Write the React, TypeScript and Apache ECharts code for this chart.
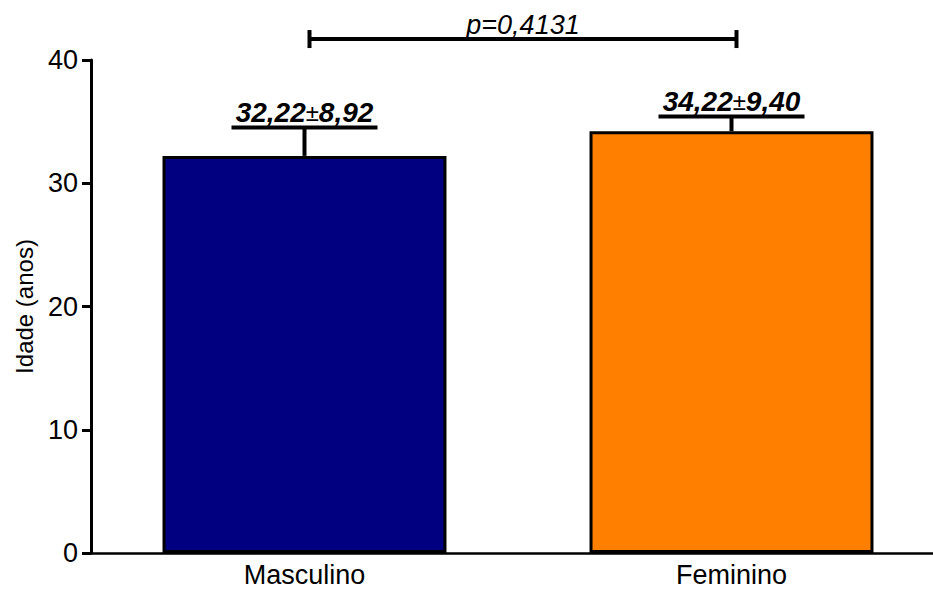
import React, { useEffect, useRef } from "react";
import * as echarts from "echarts";

const categories = ["Masculino", "Feminino"];
const means = [32.22, 34.22];
const sds = [8.92, 9.4];
const errUp = [2.3, 1.2];
const meanLabels = ["32,22", "34,22"];
const sdLabels = ["8,92", "9,40"];
const barColors = ["#000080", "#FF8000"];
const pText = "p=0,4131";
const pLevel = 41.7;
const yTicks = [0, 10, 20, 30, 40];

export default function App() {
  const ref = useRef<HTMLDivElement>(null);
  useEffect(() => {
    document.body.style.margin = "0";
    const chart = echarts.init(ref.current!, null, { renderer: "svg" });
    const font = "Arial, 'Liberation Sans', sans-serif";
    chart.setOption({
      animation: false,
      grid: { left: 91, width: 854, top: 60, height: 493, containLabel: false },
      xAxis: {
        type: "category",
        data: categories,
        axisLine: { lineStyle: { color: "#000", width: 2.5 } },
        axisTick: { alignWithLabel: true, length: 8, lineStyle: { color: "#000", width: 3 } },
        axisLabel: { color: "#000", fontSize: 27, fontFamily: font, margin: 8 },
      },
      yAxis: {
        type: "value",
        min: yTicks[0],
        max: yTicks[yTicks.length - 1],
        interval: 10,
        name: "Idade (anos)",
        nameLocation: "middle",
        nameRotate: 90,
        nameGap: 55,
        nameTextStyle: { color: "#000", fontSize: 24, fontFamily: font },
        splitLine: { show: false },
        axisLine: { show: true, lineStyle: { color: "#000", width: 3 } },
        axisTick: { show: true, length: 9, lineStyle: { color: "#000", width: 3 } },
        axisLabel: { color: "#000", fontSize: 27, fontFamily: font, margin: 13 },
      },
      series: [
        {
          type: "bar",
          barWidth: "66.5%",
          data: means.map((v, i) => ({
            value: v,
            itemStyle: { color: barColors[i], borderColor: "#000", borderWidth: 3 },
          })),
        },
        {
          type: "custom",
          clip: false,
          z: 5,
          data: means.map((m, i) => [i, m, errUp[i]]),
          renderItem: (params: any, api: any) => {
            const i = api.value(0);
            const m = api.value(1);
            const e = api.value(2);
            const base = api.coord([i, m]);
            const top = api.coord([i, m + e]);
            const capW = 146;
            return {
              type: "group",
              children: [
                {
                  type: "line",
                  shape: { x1: base[0], y1: base[1], x2: top[0], y2: top[1] },
                  style: { stroke: "#000", lineWidth: 4 },
                },
                {
                  type: "line",
                  shape: { x1: top[0] - capW / 2, y1: top[1], x2: top[0] + capW / 2, y2: top[1] },
                  style: { stroke: "#000", lineWidth: 4 },
                },
                {
                  type: "text",
                  x: top[0],
                  y: top[1] - 1,
                  style: {
                    text: `{a|${meanLabels[params.dataIndex]}}{b|±}{a|${sdLabels[params.dataIndex]}}`,
                    align: "center",
                    verticalAlign: "bottom",
                    rich: {
                      a: { fontSize: 28, fontWeight: "bold", fontStyle: "italic", fontFamily: font, fill: "#000" },
                      b: { fontSize: 24, fontFamily: font, fill: "#000" },
                    },
                  },
                },
              ],
            };
          },
        },
        {
          type: "custom",
          clip: false,
          z: 5,
          data: [[0, 1, pLevel]],
          renderItem: (params: any, api: any) => {
            const a = api.coord([api.value(0), api.value(2)]);
            const b = api.coord([api.value(1), api.value(2)]);
            const x1 = a[0] + 5;
            const x2 = b[0] + 5;
            const y = a[1];
            return {
              type: "group",
              children: [
                { type: "line", shape: { x1, y1: y, x2, y2: y }, style: { stroke: "#000", lineWidth: 4 } },
                { type: "line", shape: { x1, y1: y - 9, x2: x1, y2: y + 9 }, style: { stroke: "#000", lineWidth: 4 } },
                { type: "line", shape: { x1: x2, y1: y - 9, x2, y2: y + 9 }, style: { stroke: "#000", lineWidth: 4 } },
                {
                  type: "text",
                  x: (x1 + x2) / 2,
                  y: y - 1,
                  style: {
                    text: pText,
                    align: "center",
                    verticalAlign: "bottom",
                    fontSize: 27,
                    fontStyle: "italic",
                    fontFamily: font,
                    fill: "#000",
                  },
                },
              ],
            };
          },
        },
      ],
    });
    return () => chart.dispose();
  }, []);
  return (
    <div style={{ width: 933, height: 589, overflow: "hidden", position: "relative" }}>
      <div ref={ref} style={{ width: 950, height: 589 }} />
    </div>
  );
}
